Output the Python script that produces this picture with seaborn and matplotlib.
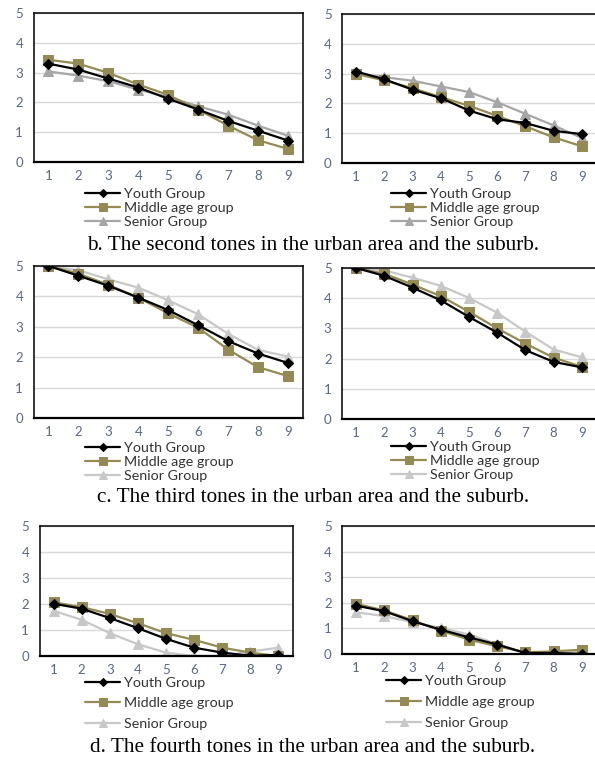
import numpy as np
import pandas as pd
import matplotlib
matplotlib.use("Agg")
import matplotlib.pyplot as plt
import seaborn as sns

sns.set_theme(style="white")
plt.rcParams['font.family'] = ['Lato', 'DejaVu Sans']

# ---------------- data ----------------
positions = [1, 2, 3, 4, 5, 6, 7, 8, 9]
groups = ["Youth Group", "Middle age group", "Senior Group"]

b_urban_youth = [3.30, 3.10, 2.80, 2.50, 2.12, 1.76, 1.38, 1.05, 0.72]
b_urban_middle = [3.43, 3.30, 2.99, 2.60, 2.25, 1.76, 1.22, 0.73, 0.44]
b_urban_senior = [3.04, 2.90, 2.71, 2.43, 2.18, 1.87, 1.59, 1.22, 0.88]

b_suburb_youth = [3.07, 2.81, 2.46, 2.18, 1.76, 1.47, 1.34, 1.08, 0.97]
b_suburb_middle = [2.99, 2.77, 2.51, 2.21, 1.92, 1.58, 1.23, 0.86, 0.56]
b_suburb_senior = [2.99, 2.88, 2.76, 2.57, 2.38, 2.04, 1.65, 1.26, 0.84]

c_urban_youth = [5.00, 4.68, 4.35, 3.96, 3.55, 3.05, 2.53, 2.12, 1.81]
c_urban_middle = [5.00, 4.75, 4.38, 3.96, 3.44, 2.97, 2.25, 1.67, 1.38]
c_urban_senior = [5.00, 4.86, 4.56, 4.29, 3.87, 3.41, 2.77, 2.24, 2.02]

c_suburb_youth = [5.00, 4.74, 4.35, 3.93, 3.38, 2.86, 2.28, 1.89, 1.71]
c_suburb_middle = [5.00, 4.81, 4.45, 4.07, 3.55, 3.00, 2.50, 2.03, 1.73]
c_suburb_senior = [5.00, 4.92, 4.68, 4.41, 4.01, 3.52, 2.89, 2.30, 2.04]

d_urban_youth = [2.01, 1.82, 1.46, 1.07, 0.66, 0.32, 0.13, 0.01, 0.04]
d_urban_middle = [2.07, 1.88, 1.62, 1.26, 0.88, 0.62, 0.32, 0.13, 0.00]
d_urban_senior = [1.74, 1.39, 0.88, 0.45, 0.13, 0.00, 0.00, 0.17, 0.32]

d_suburb_youth = [1.89, 1.67, 1.28, 0.95, 0.65, 0.37, 0.04, 0.04, 0.00]
d_suburb_middle = [1.96, 1.70, 1.32, 0.91, 0.56, 0.30, 0.07, 0.10, 0.17]
d_suburb_senior = [1.63, 1.48, 1.24, 1.02, 0.76, 0.39, 0.04, 0.00, 0.10]

y_ticks = [0, 1, 2, 3, 4, 5]
captions = ["b. The second tones in the urban area and the suburb.",
            "c. The third tones in the urban area and the suburb.",
            "d. The fourth tones in the urban area and the suburb."]

panels = [
    (b_urban_youth, b_urban_middle, b_urban_senior),
    (b_suburb_youth, b_suburb_middle, b_suburb_senior),
    (c_urban_youth, c_urban_middle, c_urban_senior),
    (c_suburb_youth, c_suburb_middle, c_suburb_senior),
    (d_urban_youth, d_urban_middle, d_urban_senior),
    (d_suburb_youth, d_suburb_middle, d_suburb_senior),
]

# ---------------- layout (pixels) ----------------
W, H = 595, 762
fig = plt.figure(figsize=(W / 100, H / 100), dpi=100)

# (left, right, top, bottom) in pixels
boxes = [
    (33.5, 303.0, 13, 162),
    (342.0, 596.0, 14, 163),
    (33.5, 303.0, 266, 418),
    (342.0, 596.0, 268, 419),
    (39.5, 292.5, 526, 656),
    (342.0, 596.0, 526, 654),
]
# legend anchor (x of handle start, y of first row top) and row spacing
legend_anchor = [
    (85, 187.5, 0.16),
    (391, 187.5, 0.16),
    (85, 441.5, 0.15),
    (391, 441, 0.15),
    (85, 677, 0.58),
    (386, 675, 0.62),
]
senior_colors = ["#A6A6A6", "#A6A6A6", "#C8C8C8", "#C8C8C8", "#C8C8C8", "#C8C8C8"]

tick_color = "#5B6780"
for i, (vals, box, leg) in enumerate(zip(panels, boxes, legend_anchor)):
    l, r, t, b = box
    ax = fig.add_axes([l / W, 1 - b / H, (r - l) / W, (b - t) / H])
    df = pd.DataFrame({
        "pos": positions * 3,
        "score": list(vals[0]) + list(vals[1]) + list(vals[2]),
        "group": [g for g in groups for _ in positions],
    })
    palette = {"Youth Group": "#000000", "Middle age group": "#948A54",
               "Senior Group": senior_colors[i]}
    markers = {"Youth Group": "D", "Middle age group": "s", "Senior Group": "^"}
    sizes_map = {"Youth Group": 5.0, "Middle age group": 7.0, "Senior Group": 6.5}
    order = ["Senior Group", "Middle age group", "Youth Group"]
    for g in order:
        sub = df[df.group == g]
        sns.lineplot(data=sub, x="pos", y="score", ax=ax, color=palette[g],
                     marker=markers[g], markersize=sizes_map[g],
                     markeredgecolor=palette[g], linewidth=1.6, label=g,
                     legend=False, zorder=3 if g == "Youth Group" else 2)
    ax.set_xlim(0.5, 9.5)
    ax.set_ylim(0, 5)
    ax.set_yticks(y_ticks)
    ax.set_xticks(positions)
    ax.set_xlabel("")
    ax.set_ylabel("")
    ax.yaxis.grid(True, color="#D9D9D9", linewidth=1.0)
    ax.xaxis.grid(False)
    ax.set_axisbelow(True)
    for sp in ax.spines.values():
        sp.set_visible(True)
        sp.set_color("black")
        sp.set_linewidth(1.1)
    ax.spines["bottom"].set_linewidth(1.6)
    ax.tick_params(axis="both", length=0, labelsize=9.5, colors=tick_color)
    ax.tick_params(axis="y", pad=7.5)
    ax.tick_params(axis="x", pad=6)

    # legend
    handles_map = {h.get_label(): h for h in ax.get_lines()}
    hs = [handles_map[g] for g in groups]
    lx, ly, sp = leg
    ax.legend(hs, groups, loc="upper left",
              bbox_to_anchor=(lx / W, 1 - ly / H), bbox_transform=fig.transFigure,
              frameon=False, fontsize=10.3, handlelength=2.45, handletextpad=0.3,
              labelspacing=sp, borderpad=0, borderaxespad=0, markerscale=0.8,
              labelcolor="#333333")

cap_y = [245, 497, 748]
for cy, txt in zip(cap_y, captions):
    fig.text(313 / W, 1 - cy / H, txt, ha="center", va="center",
             fontsize=15.3, family=["Liberation Serif", "DejaVu Serif"], color="black")

fig.savefig("out.png", dpi=100)
